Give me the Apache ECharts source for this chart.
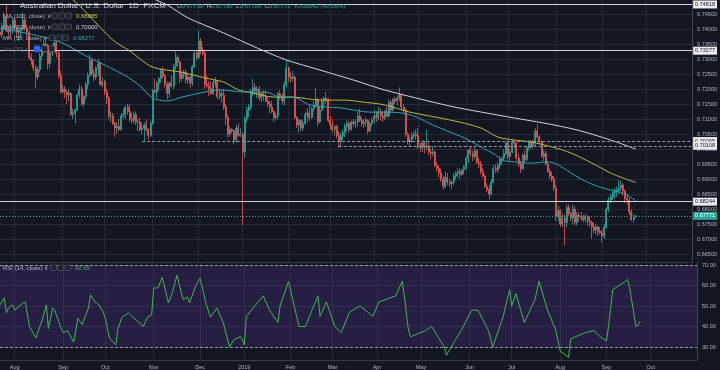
<!DOCTYPE html>
<html><head><meta charset="utf-8">
<script src="https://cdn.jsdelivr.net/npm/echarts@6/dist/echarts.min.js"></script>
<style>html,body{margin:0;padding:0;background:#131722;}#c{width:720px;height:370px;}</style>
</head><body><div id="c"></div>
<script>
// ---------- DATA ----------
// trading days (weekdays, FXCM holidays skipped)
const skipDays = ['2019-01-01', '2019-04-19'];
const dates = [];
(function () {
  let d = new Date(Date.UTC(2018, 6, 23));
  while (dates.length < 332) {
    const wd = d.getUTCDay(), s = d.toISOString().slice(0, 10);
    if (wd > 0 && wd < 6 && skipDays.indexOf(s) < 0) dates.push(s);
    d.setUTCDate(d.getUTCDate() + 1);
  }
})();
const monthNames = ['Jan','Feb','Mar','Apr','May','Jun','Jul','Aug','Sep','Oct','Nov','Dec'];

// daily candles [open, high, low, close] in pips (x 1e-4), from 2018-07-23
const ohlc = [
// Jul 2018
[7390,7400,7365,7380],[7380,7420,7370,7410],[7410,7455,7395,7440],[7440,7482,7390,7395],[7395,7410,7370,7390],[7390,7415,7375,7400],[7400,7440,7385,7430],
// Aug 2018
[7430,7440,7395,7405],[7405,7410,7375,7390],[7390,7405,7360,7395],[7395,7405,7370,7400],[7400,7455,7395,7430],[7430,7440,7395,7405],[7405,7415,7375,7390],[7390,7395,7300,7305],
[7305,7320,7280,7295],[7295,7300,7260,7270],[7270,7280,7202,7240],[7240,7275,7230,7265],[7265,7320,7255,7310],[7310,7340,7295,7330],[7330,7365,7320,7350],[7350,7365,7320,7345],
[7345,7350,7265,7285],[7285,7330,7270,7320],[7320,7345,7310,7335],[7335,7380,7325,7355],[7355,7365,7305,7320],[7320,7330,7235,7245],[7245,7260,7185,7190],
// Sep 2018
[7190,7215,7185,7200],[7200,7210,7170,7190],[7190,7195,7150,7180],[7180,7200,7160,7185],[7185,7190,7110,7115],
[7115,7135,7100,7120],[7120,7135,7085,7130],[7130,7185,7125,7180],[7180,7215,7170,7200],[7200,7210,7145,7150],
[7150,7180,7140,7175],[7175,7225,7165,7215],[7215,7255,7200,7245],[7245,7315,7240,7295],[7295,7300,7245,7250],
[7250,7265,7225,7240],[7240,7275,7230,7270],[7270,7300,7245,7285],[7285,7290,7210,7215],[7215,7240,7205,7225],
// Oct 2018
[7225,7230,7180,7190],[7190,7200,7150,7170],[7170,7175,7100,7110],[7110,7125,7090,7110],[7110,7120,7080,7085],
[7085,7090,7040,7070],[7070,7090,7050,7075],[7075,7100,7060,7065],[7065,7120,7060,7110],[7110,7135,7100,7115],
[7115,7145,7100,7140],[7140,7150,7115,7125],[7125,7150,7090,7100],[7100,7120,7085,7095],[7095,7125,7085,7115],
[7115,7125,7080,7090],[7090,7100,7060,7090],[7090,7105,7060,7065],[7065,7090,7050,7070],[7070,7090,7022,7080],
[7080,7100,7060,7065],[7065,7070,7030,7045],[7045,7095,7040,7085],
// Nov 2018
[7085,7200,7080,7195],[7195,7235,7185,7190],
[7190,7225,7170,7220],[7220,7240,7195,7235],[7235,7270,7220,7260],[7260,7275,7235,7245],[7245,7250,7205,7215],
[7215,7225,7165,7185],[7185,7225,7170,7220],[7220,7245,7205,7210],[7210,7285,7200,7275],[7275,7325,7265,7305],
[7305,7315,7275,7290],[7290,7295,7220,7235],[7235,7260,7225,7250],[7250,7265,7235,7255],[7255,7265,7220,7230],
[7230,7250,7215,7240],[7240,7245,7205,7220],[7220,7280,7210,7275],[7275,7325,7270,7320],[7320,7330,7295,7305],
// Dec 2018
[7305,7394,7300,7360],[7360,7370,7315,7330],[7330,7340,7310,7320],[7320,7325,7200,7215],[7215,7245,7205,7210],
[7210,7225,7175,7200],[7200,7225,7180,7185],[7185,7230,7180,7220],[7220,7240,7205,7225],[7225,7230,7165,7175],
[7175,7200,7165,7185],[7185,7195,7155,7180],[7180,7200,7130,7140],[7140,7150,7080,7105],[7105,7115,7040,7050],
[7050,7075,7040,7065],[7065,7070,7055,7060],[7060,7065,7015,7030],[7030,7080,7020,7070],[7070,7085,7040,7045],
[7045,7070,7040,7050],
// Jan 2019
[7050,7055,6747,6990],[6990,7110,6970,7100],[7100,7140,7090,7130],
[7130,7150,7105,7140],[7140,7200,7130,7190],[7190,7235,7175,7205],[7205,7220,7180,7195],[7195,7210,7170,7200],
[7200,7210,7160,7170],[7170,7190,7155,7185],[7185,7195,7160,7175],[7175,7195,7155,7160],[7160,7170,7140,7150],
[7150,7160,7120,7140],[7140,7160,7120,7125],[7125,7130,7090,7105],[7105,7120,7095,7110],[7110,7190,7100,7185],
[7185,7195,7165,7170],[7170,7185,7150,7160],[7160,7225,7145,7215],[7215,7296,7205,7270],
// Feb 2019
[7270,7275,7225,7240],
[7240,7255,7220,7235],[7235,7260,7225,7240],[7240,7245,7100,7105],[7105,7110,7070,7080],[7080,7100,7055,7095],
[7095,7100,7060,7070],[7070,7095,7060,7085],[7085,7125,7080,7115],[7115,7135,7090,7120],[7120,7145,7095,7105],
[7105,7140,7100,7135],[7135,7160,7125,7145],[7145,7205,7140,7165],[7165,7170,7075,7090],[7090,7140,7085,7130],
[7130,7170,7125,7160],[7160,7175,7135,7170],[7170,7190,7150,7165],[7165,7170,7090,7095],
// Mar 2019
[7095,7110,7065,7080],
[7080,7100,7055,7065],[7065,7080,7045,7075],[7075,7080,7035,7045],[7045,7060,7003,7025],[7025,7055,7010,7045],
[7045,7065,7030,7055],[7055,7085,7040,7075],[7075,7095,7060,7085],[7085,7095,7055,7065],[7065,7095,7060,7090],
[7090,7100,7075,7085],[7085,7100,7070,7090],[7090,7125,7075,7110],[7110,7135,7090,7095],[7095,7105,7075,7085],
[7085,7100,7070,7090],[7090,7105,7075,7095],[7095,7100,7050,7060],[7060,7090,7055,7085],[7085,7105,7075,7095],
// Apr 2019
[7095,7130,7085,7110],[7110,7125,7090,7105],[7105,7140,7095,7125],[7125,7135,7095,7110],[7110,7125,7090,7105],
[7105,7130,7095,7125],[7125,7140,7105,7110],[7110,7165,7105,7155],[7155,7165,7120,7130],[7130,7170,7125,7165],
[7165,7175,7150,7160],[7160,7175,7145,7170],[7170,7206,7160,7180],[7180,7185,7130,7140],
[7140,7150,7120,7130],[7130,7135,7040,7050],[7050,7055,7015,7025],[7025,7040,7010,7030],[7030,7055,7020,7045],
[7045,7060,7035,7050],[7050,7065,7030,7045],
// May 2019
[7045,7070,7000,7010],[7010,7020,6990,7005],[7005,7030,6990,7020],
[7020,7025,6985,7005],[7005,7065,6995,7010],[7010,7020,6980,6990],[6990,7000,6965,6985],[6985,7010,6975,6990],
[6990,6995,6940,6945],[6945,6955,6925,6935],[6935,6945,6905,6920],[6920,6935,6890,6900],[6900,6910,6865,6875],
[6875,6925,6870,6905],[6905,6920,6880,6890],[6890,6900,6875,6885],[6885,6895,6865,6890],[6890,6920,6880,6910],
[6910,6925,6900,6920],[6920,6935,6905,6925],[6925,6935,6900,6915],[6915,6935,6910,6930],[6930,6945,6915,6940],
// Jun 2019
[6940,6975,6930,6970],[6970,7000,6955,6995],[6995,7010,6975,6985],[6985,6995,6960,6975],[6975,7005,6965,6995],
[6995,6995,6950,6955],[6955,6970,6935,6950],[6950,6960,6915,6925],[6925,6935,6905,6910],[6910,6915,6870,6875],
[6875,6885,6855,6865],[6865,6880,6832,6850],[6850,6900,6845,6890],[6890,6945,6885,6935],[6935,6950,6920,6930],
[6930,6955,6920,6945],[6945,6975,6935,6965],[6965,6975,6950,6970],[6970,7000,6960,6985],[6985,7025,6980,7020],
// Jul 2019
[7020,7030,6965,6975],[6975,7000,6960,6990],[6990,7030,6985,7025],[7025,7030,7005,7020],[7020,7025,6960,6970],
[6970,6985,6940,6950],[6950,6960,6920,6935],[6935,6985,6930,6980],[6980,6995,6955,6965],[6965,7010,6960,7005],
[7005,7030,6995,7025],[7025,7030,7000,7010],[7010,7030,7000,7020],[7020,7070,7010,7060],[7060,7082,7035,7040],
[7040,7045,7015,7025],[7025,7030,6970,6975],[6975,6995,6960,6985],[6985,6995,6945,6950],[6950,6960,6920,6925],
[6925,6935,6900,6910],[6910,6925,6890,6900],[6900,6910,6860,6870],
// Aug 2019
[6870,6880,6760,6775],[6775,6810,6760,6795],
[6795,6800,6740,6750],[6750,6785,6740,6770],[6770,6780,6677,6755],[6755,6815,6740,6805],[6805,6815,6775,6785],
[6785,6790,6760,6770],[6770,6815,6750,6800],[6800,6810,6745,6755],[6755,6790,6745,6780],[6780,6790,6760,6775],
[6775,6790,6760,6770],[6770,6780,6755,6765],[6765,6785,6755,6775],[6775,6780,6745,6760],[6760,6775,6740,6755],
[6755,6760,6700,6740],[6740,6755,6720,6730],[6730,6750,6715,6740],[6740,6745,6710,6725],[6725,6740,6715,6720],
// Sep 2019
[6720,6730,6688,6710],[6710,6750,6700,6740],[6740,6805,6735,6800],[6800,6840,6790,6830],[6830,6850,6820,6840],
[6840,6865,6830,6855],[6855,6870,6835,6860],[6860,6875,6840,6865],[6865,6895,6850,6870],[6870,6895,6860,6880],
[6880,6885,6845,6860],[6860,6865,6820,6835],[6835,6850,6815,6830],[6830,6835,6780,6790],[6790,6800,6760,6765],
[6765,6785,6755,6773],[6773,6779,6772.6,6777.1]
];

// moving averages (date, value)
const ma50Pts = [['2018-07-23',0.7403],['2018-08-21',0.7373],['2018-09-03',0.7353],['2018-09-19',0.7307],['2018-10-02',0.7277],
['2018-10-16',0.7240],['2018-10-24',0.7210],['2018-11-01',0.7170],['2018-11-12',0.7160],['2018-11-21',0.7173],['2018-12-06',0.7190],
['2018-12-17',0.7197],['2019-01-03',0.7190],['2019-01-17',0.7190],['2019-01-28',0.7173],['2019-02-05',0.7173],['2019-02-15',0.7147],
['2019-02-27',0.7140],['2019-03-08',0.7137],['2019-03-18',0.7130],['2019-03-28',0.7123],['2019-04-08',0.7123],['2019-04-18',0.7120],
['2019-04-30',0.7107],['2019-05-10',0.7080],['2019-05-22',0.7057],['2019-05-31',0.7037],['2019-06-12',0.7007],['2019-06-21',0.6980],
['2019-06-26',0.6963],['2019-07-04',0.6957],['2019-07-16',0.6953],['2019-07-26',0.6957],['2019-08-02',0.6947],['2019-08-15',0.6907],
['2019-08-27',0.6880],['2019-09-06',0.6863],['2019-09-16',0.6853],['2019-09-24',0.68277]];
const ma100Pts = [['2018-08-31',0.7510],['2018-09-10',0.74967],['2018-10-05',0.7363],['2018-10-17',0.7327],['2018-11-01',0.7273],
['2018-11-20',0.7257],['2018-12-06',0.7237],['2018-12-19',0.7223],['2018-12-28',0.7197],['2019-01-09',0.71867],['2019-01-23',0.7173],
['2019-02-05',0.7173],['2019-02-22',0.7163],['2019-03-12',0.7163],['2019-03-22',0.7157],['2019-04-08',0.7147],['2019-04-25',0.7123],
['2019-05-22',0.7097],['2019-06-12',0.7070],['2019-06-24',0.7040],['2019-07-04',0.7030],['2019-07-16',0.70233],['2019-07-30',0.70067],
['2019-08-12',0.69867],['2019-08-26',0.69533],['2019-09-06',0.6920],['2019-09-16',0.69033],['2019-09-24',0.68885]];
const ma200Pts = [['2018-10-30',0.75067],['2018-11-12',0.7480],['2018-11-26',0.74367],['2018-12-19',0.73867],['2019-01-11',0.73367],
['2019-01-31',0.72967],['2019-02-22',0.72633],['2019-03-18',0.7230],['2019-04-08',0.71967],['2019-05-22',0.71433],['2019-06-12',0.71233],
['2019-07-04',0.71033],['2019-07-24',0.70867],['2019-08-15',0.70633],['2019-09-06',0.7030],['2019-09-24',0.7000]];

// RSI(14) (date, value)
const rsiPts = [['2018-07-23',50.5],['2018-07-25',54],['2018-07-26',46.6],['2018-07-27',49],['2018-07-31',50.5],['2018-08-01',48],
['2018-08-07',51.5],['2018-08-08',52],['2018-08-10',40],['2018-08-15',34.4],['2018-08-20',43],['2018-08-22',50.5],['2018-08-23',39],
['2018-08-27',49],['2018-08-28',48],['2018-08-31',39],['2018-09-03',37],['2018-09-05',38],['2018-09-10',32.4],['2018-09-12',44],
['2018-09-14',41],['2018-09-19',49],['2018-09-20',55.4],['2018-09-24',52],['2018-09-26',50.5],['2018-09-28',47],['2018-10-01',44],
['2018-10-03',34.4],['2018-10-08',31],['2018-10-09',39],['2018-10-11',44.6],['2018-10-16',46.6],['2018-10-18',44.6],['2018-10-22',43],
['2018-10-25',40],['2018-10-29',44.6],['2018-10-31',45.6],['2018-11-01',58.8],['2018-11-05',58.8],['2018-11-07',64],['2018-11-12',51.5],
['2018-11-14',57],['2018-11-16',65],['2018-11-21',53],['2018-11-23',54.4],['2018-11-26',51.5],['2018-11-29',60],['2018-12-03',63.6],
['2018-12-06',50.5],['2018-12-10',44.6],['2018-12-13',49],['2018-12-18',42],['2018-12-21',30],['2018-12-25',33.4],['2018-12-28',35],
['2018-12-31',34],['2019-01-02',31],['2019-01-03',45],['2019-01-15',55],['2019-01-18',48],['2019-01-24',42],['2019-01-25',50],
['2019-01-31',62],['2019-02-07',40],['2019-02-12',40],['2019-02-20',55],['2019-02-21',45],['2019-02-26',52],['2019-03-04',40],
['2019-03-07',37],['2019-03-13',47],['2019-03-20',50],['2019-03-28',45],['2019-04-02',52],['2019-04-12',55],['2019-04-17',62],
['2019-04-18',55],['2019-04-23',38],['2019-04-24',35],['2019-05-03',38],['2019-05-08',40],['2019-05-16',30],['2019-05-17',26],
['2019-05-23',33],['2019-05-28',38],['2019-06-04',48],['2019-06-07',48],['2019-06-14',38],['2019-06-18',30],['2019-06-25',45],
['2019-06-28',58],['2019-07-01',50],['2019-07-03',56],['2019-07-09',42],['2019-07-16',53],['2019-07-18',62],['2019-07-24',48],
['2019-07-30',38],['2019-08-01',28],['2019-08-07',25],['2019-08-08',34],['2019-08-19',37],['2019-08-23',38],['2019-08-28',35],
['2019-09-02',33],['2019-09-03',40],['2019-09-05',58],['2019-09-13',62],['2019-09-16',63],['2019-09-17',59],['2019-09-20',40],
['2019-09-23',40.7],['2019-09-24',42.65]];

const priceTicks = [0.665,0.670,0.675,0.680,0.685,0.690,0.695,0.700,0.705,0.710,0.715,0.720,0.725,0.730,0.735,0.740,0.745];
const rsiTicks = [30,40,50,60,70];
const levelValues = [0.74818, 0.73277, 0.70265, 0.70108, 0.68244];
const levelStarts = [null, null, '2018-10-25', '2019-03-07', null];
const lastPrice = 0.67771;
const headerOHLC = ['0.67730','0.67790','0.67726','0.67771','+0.00043 (+0.06%)'];
const legendVals = ['0.68885','0.70000','0.68277','42.65'];

// ---------- CHART ----------
const F = 'Liberation Sans, Arial, sans-serif';
const GRID = '#262a36';
const isMonthStart = (i) => i > 0 && dates[i].slice(0, 7) !== dates[i - 1].slice(0, 7);
const monthLabel = (v) => { const m = +v.slice(5, 7); return m === 1 ? v.slice(0, 4) : monthNames[m - 1]; };
const firstCat = dates[0], lastCat = dates[dates.length - 1];

function boxLabel(text, bg, fg) {
  return {show: true, position: 'end', formatter: text, backgroundColor: bg, color: fg,
          fontSize: 5.5, fontFamily: F, padding: [1, 2, 1, 2], distance: 1};
}
const levelLines = levelValues.map((v, k) => {
  const dashed = levelStarts[k] !== null;
  const ls = {color: dashed ? '#9598a1' : '#d1d4dc', width: 1, type: dashed ? [3, 2] : 'solid'};
  const lab = boxLabel(v.toFixed(5), '#e9ebef', '#131722');
  return [{coord: [dashed ? levelStarts[k] : firstCat, v], lineStyle: ls, label: lab}, {coord: [lastCat, v]}];
});
levelLines.push([{coord: [firstCat, lastPrice], lineStyle: {color: '#26a69a', width: 1, type: [1, 2]},
                  label: boxLabel(lastPrice.toFixed(5), '#26a69a', '#ffffff')}, {coord: [lastCat, lastPrice]}]);

const catAxis = (gi, showLabel) => ({
  type: 'category', gridIndex: gi, data: dates, boundaryGap: false,
  axisLine: {show: true, lineStyle: {color: '#363a45'}}, axisTick: {show: false},
  axisLabel: {show: showLabel, interval: isMonthStart, formatter: monthLabel, color: '#b2b5be', fontSize: 5.5, fontFamily: F, margin: 4},
  splitLine: {show: true, interval: isMonthStart, lineStyle: {color: GRID, width: 1}}
});

const legendRows = [
  {y: 16, name: 'MA (100, close)', val: legendVals[0], col: '#c9c93c', ix: 52},
  {y: 27, name: 'MA (200, close)', val: legendVals[1], col: '#d1d4dc', ix: 52},
  {y: 38, name: 'MA (50, close)', val: legendVals[2], col: '#2ba6bd', ix: 49},
  {y: 268, name: 'RSI (14, close)', val: legendVals[3], col: '#3cb94f', ix: 51}
];
const graphics = [];
graphics.push({type: 'text', x: 20, y: 6, z: 100, style: {text: 'Australian Dollar / U.S. Dollar  1D  FXCM', fill: '#d1d4dc', fontSize: 8, fontFamily: F, verticalAlign: 'middle'}});
graphics.push({type: 'text', x: 177, y: 6, z: 100, style: {
  text: '{l|O}{v|' + headerOHLC[0] + '}  {l|H}{v|' + headerOHLC[1] + '}  {l|L}{v|' + headerOHLC[2] + '}  {l|C}{v|' + headerOHLC[3] + '}  {v|' + headerOHLC[4] + '}',
  verticalAlign: 'middle', fontFamily: F, fontSize: 6,
  rich: {l: {fill: '#b2b5be', fontSize: 6, fontFamily: F}, v: {fill: '#26a69a', fontSize: 6, fontFamily: F}}}});
legendRows.forEach(r => {
  graphics.push({type: 'text', x: 3, y: r.y, z: 100, style: {text: r.name + ' \u2228', fill: '#b2b5be', fontSize: 6, fontFamily: F, verticalAlign: 'middle'}});
  for (let k = 0; k < 3; k++) graphics.push({type: 'rect', z: 100, shape: {x: r.ix + k * 7, y: r.y - 3, width: 5.5, height: 5.5, r: 0.8},
    style: {fill: '#1e222d', stroke: '#5d606b', lineWidth: 0.6}});
  graphics.push({type: 'text', x: r.ix + 24, y: r.y, z: 100, style: {text: r.val, fill: r.col, fontSize: 6, fontFamily: F, verticalAlign: 'middle'}});
});
graphics.push({type: 'text', x: 3, y: 49, z: 100, style: {text: 'Vol (20) \u2228', fill: '#5d606b', fontSize: 6, fontFamily: F, verticalAlign: 'middle'}});
graphics.push({type: 'rect', z: 100, shape: {x: 34, y: 46, width: 6, height: 6, r: 0.8}, style: {fill: '#2962ff', stroke: '#2962ff', lineWidth: 0.6}});
for (let k = 0; k < 2; k++) graphics.push({type: 'rect', z: 100, shape: {x: 42 + k * 7, y: 46, width: 5.5, height: 5.5, r: 0.8}, style: {fill: '#1e222d', stroke: '#5d606b', lineWidth: 0.6}});

const option = {
  backgroundColor: '#131722',
  animation: false,
  textStyle: {fontFamily: F},
  grid: [
    {left: -0.75, right: 23, top: 0, height: 262},
    {left: -0.75, right: 23, top: 262, height: 98}
  ],
  xAxis: [catAxis(0, false), catAxis(1, true)],
  yAxis: [
    {type: 'value', gridIndex: 0, position: 'right', min: 0.66233, max: 0.74967, scale: true,
     axisLine: {show: true, lineStyle: {color: '#434651'}},
     axisTick: {show: false, customValues: priceTicks},
     axisLabel: {customValues: priceTicks, formatter: v => v.toFixed(5), color: '#b2b5be', fontSize: 5.5, fontFamily: F, margin: 5},
     splitLine: {show: true, lineStyle: {color: GRID}}},
    {type: 'value', gridIndex: 1, position: 'right', min: 23.66, max: 71.46,
     axisLine: {show: true, lineStyle: {color: '#434651'}},
     axisTick: {show: false, customValues: rsiTicks},
     axisLabel: {customValues: rsiTicks, formatter: v => v.toFixed(2), color: '#b2b5be', fontSize: 5.5, fontFamily: F, margin: 5},
     splitLine: {show: true, lineStyle: {color: GRID}}}
  ],
  graphic: graphics,
  series: [
    {type: 'candlestick', xAxisIndex: 0, yAxisIndex: 0, barWidth: 1.5,
     data: ohlc.map(b => [b[0] / 1e4, b[3] / 1e4, b[2] / 1e4, b[1] / 1e4]),
     itemStyle: {color: '#26a69a', color0: '#ef5350', borderColor: '#26a69a', borderColor0: '#ef5350', borderWidth: 0.8},
     markLine: {symbol: ['none', 'none'], silent: true, animation: false, precision: 5, data: levelLines}},
    {type: 'line', name: 'MA200', xAxisIndex: 0, yAxisIndex: 0, data: ma200Pts, showSymbol: false, smooth: 0.3,
     lineStyle: {color: '#d1d4dc', width: 1}, z: 3},
    {type: 'line', name: 'MA100', xAxisIndex: 0, yAxisIndex: 0, data: ma100Pts, showSymbol: false, smooth: 0.3,
     lineStyle: {color: '#b9b83a', width: 1}, z: 3},
    {type: 'line', name: 'MA50', xAxisIndex: 0, yAxisIndex: 0, data: ma50Pts, showSymbol: false, smooth: 0.3,
     lineStyle: {color: '#2aa3b8', width: 1}, z: 3},
    {type: 'line', name: 'RSI', xAxisIndex: 1, yAxisIndex: 1, data: rsiPts, showSymbol: false,
     lineStyle: {color: '#3cb94f', width: 1}, z: 3,
     markArea: {silent: true, itemStyle: {color: 'rgba(120,60,200,0.2)'}, data: [[{yAxis: 30}, {yAxis: 70}]]},
     markLine: {symbol: ['none', 'none'], silent: true, label: {show: false},
                lineStyle: {color: '#9598a1', type: [3, 2], width: 1}, data: [{yAxis: 70}, {yAxis: 30}]}}
  ]
};
const chart = echarts.init(document.getElementById('c'), null, {renderer: 'canvas'});
chart.setOption(option);
</script></body></html>
